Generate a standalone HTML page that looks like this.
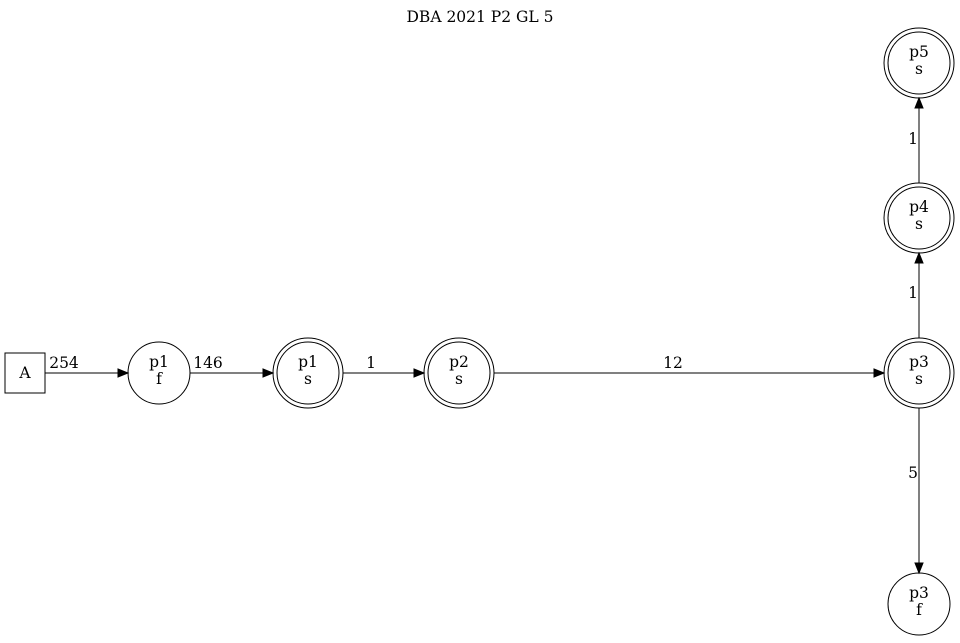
<!DOCTYPE html>
<html><head><meta charset="utf-8"><style>body{margin:0;background:#fff}</style></head><body>
<svg width="960" height="638" xmlns="http://www.w3.org/2000/svg" font-family="DejaVu Serif, serif" font-size="15.5">
<rect width="960" height="638" fill="#fff"/>
<text x="480" y="22" text-anchor="middle">DBA 2021 P2 GL 5</text>
<g fill="none" stroke="#000" stroke-width="1">
<rect x="5" y="353" width="40" height="40"/>
<circle cx="159" cy="373" r="31"/>
<circle cx="308" cy="373" r="31"/><circle cx="308" cy="373" r="35"/>
<circle cx="459" cy="373" r="31"/><circle cx="459" cy="373" r="35"/>
<circle cx="919" cy="373" r="31"/><circle cx="919" cy="373" r="35"/>
<circle cx="919" cy="218" r="31"/><circle cx="919" cy="218" r="35"/>
<circle cx="919" cy="63" r="31"/><circle cx="919" cy="63" r="35"/>
<circle cx="919" cy="604" r="31"/>
<line x1="45" y1="373" x2="118" y2="373"/>
<line x1="190" y1="373" x2="263" y2="373"/>
<line x1="343" y1="373" x2="414" y2="373"/>
<line x1="494" y1="373" x2="874" y2="373"/>
<line x1="919" y1="338" x2="919" y2="263"/>
<line x1="919" y1="183" x2="919" y2="108"/>
<line x1="919" y1="408" x2="919" y2="563"/>
</g>
<g fill="#000" stroke="#000">
<polygon points="118,369 128,373 118,377"/>
<polygon points="263,369 273,373 263,377"/>
<polygon points="414,369 424,373 414,377"/>
<polygon points="874,369 884,373 874,377"/>
<polygon points="915,263 919,253 923,263"/>
<polygon points="915,108 919,98 923,108"/>
<polygon points="915,563 919,573 923,563"/>
</g>
<g text-anchor="middle">
<text x="25" y="378">A</text>
<text x="159" y="367">p1</text><text x="159" y="384">f</text>
<text x="308" y="367">p1</text><text x="308" y="384">s</text>
<text x="459" y="367">p2</text><text x="459" y="384">s</text>
<text x="919" y="367">p3</text><text x="919" y="384">s</text>
<text x="919" y="212">p4</text><text x="919" y="229">s</text>
<text x="919" y="57">p5</text><text x="919" y="74">s</text>
<text x="919" y="598">p3</text><text x="919" y="615">f</text>
<text x="64" y="368">254</text>
<text x="208" y="368">146</text>
<text x="371" y="368">1</text>
<text x="673" y="368">12</text>
<text x="913" y="298">1</text>
<text x="913" y="144">1</text>
<text x="913" y="478">5</text>
</g>
</svg>
</body></html>
